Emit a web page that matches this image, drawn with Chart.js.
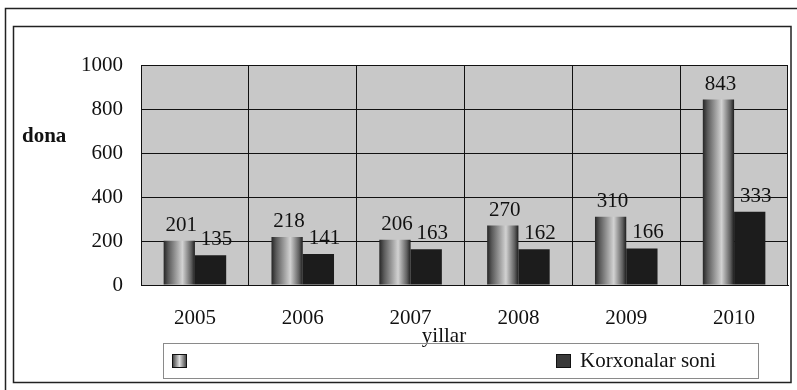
<!DOCTYPE html>
<html>
<head>
<meta charset="utf-8">
<script src="https://cdn.jsdelivr.net/npm/chart.js@4.4.1/dist/chart.umd.min.js"></script>
<style>
  html, body { margin: 0; padding: 0; background: #fff; }
  canvas { display: block; }
</style>
</head>
<body>
<canvas id="chart" width="797" height="390"></canvas>
<script>
// ---------- data ----------
const YEARS = ['2005', '2006', '2007', '2008', '2009', '2010'];
const SERIES_A = [201, 218, 206, 270, 310, 843];   // unnamed series
const SERIES_B = [135, 141, 163, 162, 166, 333];   // Korxonalar soni
const LABEL_A = '';
const LABEL_B = 'Korxonalar soni';
const Y_TICKS = [0, 200, 400, 600, 800, 1000];

const FONT = "'Liberation Serif', 'Times New Roman', serif";
const CAT_PCT = 0.58;
const INK = '#111';

// cylinder-like shading for the first series
function cylinder(ctx) {
  const chart = ctx.chart;
  const xs = chart.scales && chart.scales.x;
  if (ctx.type !== 'data' || !xs || !chart.chartArea) return '#9a9a9a';
  const center = xs.getPixelForValue(ctx.dataIndex);
  const catW = xs.width / YEARS.length;
  const barW = catW * CAT_PCT / 2;
  const left = center - barW;
  const g = chart.ctx.createLinearGradient(left, 0, center, 0);
  g.addColorStop(0, '#262626');
  g.addColorStop(0.15, '#5a5a5a');
  g.addColorStop(0.6, '#d2d2d2');
  g.addColorStop(0.88, '#606060');
  g.addColorStop(1, '#1e1e1e');
  return g;
}

// frame, plot fill and free text
const decor = {
  id: 'decor',
  beforeDraw(chart) {
    const c = chart.ctx, a = chart.chartArea;
    c.save();
    c.fillStyle = '#fff';
    c.fillRect(0, 0, chart.width, chart.height);
    c.strokeStyle = '#222';
    c.lineWidth = 1.5;
    c.beginPath();
    c.moveTo(5.5, 390); c.lineTo(5.5, 8.5); c.lineTo(797, 8.5);
    c.stroke();
    c.strokeRect(13.5, 26.5, 777.5, 356);
    c.fillStyle = '#c8c8c8';
    c.fillRect(a.left, a.top, a.right - a.left, a.bottom - a.top);
    c.restore();
  },
  afterDraw(chart) {
    const c = chart.ctx;
    c.save();
    c.fillStyle = INK;
    c.textBaseline = 'alphabetic';
    c.font = 'bold 21px ' + FONT;
    c.textAlign = 'left';
    c.fillText('dona', 22, 142);
    c.font = '21px ' + FONT;
    c.textAlign = 'center';
    c.fillText('yillar', 444, 342);

    // legend box
    c.strokeStyle = '#8a8a8a';
    c.lineWidth = 1;
    c.strokeRect(163.5, 343.5, 595, 35);
    const items = [
      { x: 172, text: chart.data.datasets[0].label },
      { x: 556, text: chart.data.datasets[1].label },
    ];
    items.forEach((it, i) => {
      if (i === 0) {
        const g = c.createLinearGradient(it.x, 0, it.x + 15, 0);
        g.addColorStop(0, '#333');
        g.addColorStop(0.5, '#e0e0e0');
        g.addColorStop(1, '#333');
        c.fillStyle = g;
      } else {
        c.fillStyle = '#3a3a3a';
      }
      c.fillRect(it.x, 354, 15, 14);
      c.strokeStyle = '#111';
      c.strokeRect(it.x + 0.5, 354.5, 14, 13);
      if (it.text) {
        c.fillStyle = INK;
        c.textAlign = 'left';
        c.textBaseline = 'middle';
        c.fillText(it.text, it.x + 24, 361);
      }
    });
    c.restore();
  }
};

// value labels above the bars
const valueLabels = {
  id: 'valueLabels',
  afterDatasetsDraw(chart) {
    const c = chart.ctx;
    c.save();
    c.font = '21px ' + FONT;
    c.fillStyle = INK;
    c.textAlign = 'center';
    c.textBaseline = 'alphabetic';
    chart.data.datasets.forEach((ds, di) => {
      chart.getDatasetMeta(di).data.forEach((bar, i) => {
        const dx = di === 1 ? 6 : 2;
        c.fillText(String(ds.data[i]), bar.x + dx, bar.y - 10);
      });
    });
    c.restore();
  }
};

new Chart(document.getElementById('chart').getContext('2d'), {
  type: 'bar',
  data: {
    labels: YEARS,
    datasets: [
      { label: LABEL_A, data: SERIES_A, backgroundColor: cylinder,
        borderWidth: 0, categoryPercentage: CAT_PCT, barPercentage: 1 },
      { label: LABEL_B, data: SERIES_B, backgroundColor: '#1c1c1c',
        borderWidth: 0, categoryPercentage: CAT_PCT, barPercentage: 1 },
    ]
  },
  options: {
    responsive: false,
    animation: false,
    layout: { padding: { left: 0, top: 65, right: 9, bottom: 0 } },
    scales: {
      x: {
        afterFit: (s) => { s.height = 105; },
        grid: { color: INK, lineWidth: 1, offset: true, drawTicks: false },
        border: { color: INK, width: 1 },
        ticks: { color: INK, font: { family: FONT, size: 21 }, padding: 21, maxRotation: 0 }
      },
      y: {
        min: 0,
        max: 1000,
        afterFit: (s) => { s.width = 141; },
        afterBuildTicks: (s) => { s.ticks = Y_TICKS.map(v => ({ value: v })); },
        grid: { color: INK, lineWidth: 1, drawTicks: false },
        border: { color: INK, width: 1 },
        ticks: {
          color: INK,
          font: { family: FONT, size: 21 },
          padding: 18,
          callback: (v) => String(v)
        }
      }
    },
    plugins: {
      legend: { display: false },
      tooltip: { enabled: false }
    }
  },
  plugins: [decor, valueLabels]
});
</script>
</body>
</html>
